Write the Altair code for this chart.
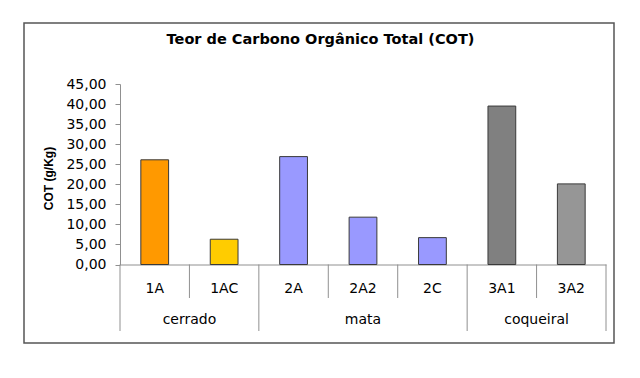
import altair as alt
import pandas as pd

categories = ["1A", "1AC", "2A", "2A2", "2C", "3A1", "3A2"]
values = [26.1, 6.3, 26.9, 11.8, 6.7, 39.5, 20.1]
groups = ["cerrado", "cerrado", "mata", "mata", "mata", "coqueiral", "coqueiral"]
colors = ["#FF9900", "#FFCC00", "#9999FF", "#9999FF", "#9999FF", "#808080", "#969696"]
y_ticks = [0, 5, 10, 15, 20, 25, 30, 35, 40, 45]
title_text = ["Teor de Carbono Orgânico Total (COT)"]
y_title = "COT (g/Kg)"

W = 486
H = 180.5
FONT = "DejaVu Sans"
GRAY = "#909090"

df = pd.DataFrame({"cat": categories, "val": values, "grp": groups})

group_names, starts, ends = [], [], []
for i, g in enumerate(groups):
    if not group_names or group_names[-1] != g:
        group_names.append(g)
        starts.append(i)
        ends.append(i + 1)
    else:
        ends[-1] = i + 1
grp_df = pd.DataFrame({"grp": group_names,
                       "mid": [(s + e) / 2 for s, e in zip(starts, ends)]})
major = sorted(set(starts + ends))
minor = [i for i in range(len(categories) + 1) if i not in major]
pos_scale = alt.Scale(domain=[0, len(categories)], nice=False, zero=False)

frame = alt.Chart(pd.DataFrame({"k": [0]})).mark_rect(
    fillOpacity=0, stroke="#555555", strokeWidth=1.5
).encode(x=alt.value(-96), x2=alt.value(494), y=alt.value(-61), y2=alt.value(259))

minor_rules = alt.Chart(pd.DataFrame({"p": minor})).mark_rule(
    color=GRAY, strokeWidth=1
).encode(x=alt.X("p:Q", scale=pos_scale, axis=None),
         y=alt.value(H), y2=alt.value(H + 33.5))

major_rules = alt.Chart(pd.DataFrame({"p": major})).mark_rule(
    color=GRAY, strokeWidth=1
).encode(x=alt.X("p:Q", scale=pos_scale, axis=None),
         y=alt.value(H), y2=alt.value(H + 66.5))

bars = alt.Chart(df).mark_bar(stroke="#3a3a3a", strokeWidth=1).encode(
    x=alt.X("cat:N", sort=categories,
            scale=alt.Scale(paddingInner=0.6, paddingOuter=0.3),
            axis=alt.Axis(title=None, ticks=False, tickSize=0, labelAngle=0,
                          labelFont=FONT, labelFontSize=14, labelColor="black",
                          labelPadding=24, labelBaseline="middle",
                          domainColor=GRAY, domainWidth=1)),
    y=alt.Y("val:Q", scale=alt.Scale(domain=[0, 45], nice=False),
            axis=alt.Axis(values=y_ticks, grid=False,
                          labelExpr="replace(format(datum.value, '.2f'), '.', ',')",
                          tickSize=5, tickColor=GRAY, domainColor=GRAY,
                          labelPadding=9, labelFont=FONT, labelFontSize=14,
                          labelColor="black",
                          title=y_title, titleFont="Liberation Sans",
                          titleFontSize=12, titleFontWeight="bold",
                          titleColor="black", titleAngle=270,
                          titleX=-72, titleY=94, titleAlign="center",
                          titleBaseline="middle")),
    color=alt.Color("cat:N", scale=alt.Scale(domain=categories, range=colors),
                    legend=None),
)

group_labels = alt.Chart(grp_df).mark_text(
    font=FONT, fontSize=14, color="black", baseline="middle", align="center"
).encode(x=alt.X("mid:Q", scale=pos_scale, axis=None),
         y=alt.value(236), text="grp:N")

title = alt.Chart(pd.DataFrame({"t": title_text})).mark_text(
    font=FONT, fontSize=14.5, fontWeight="bold", color="black",
    baseline="middle", align="center"
).encode(x=alt.value(200.5), y=alt.value(-43.7), text="t:N")

chart = alt.layer(frame, minor_rules, major_rules, bars, group_labels, title).resolve_scale(
    x="independent"
).properties(
    width=W, height=H,
    padding={"left": 120, "top": 84, "right": 34, "bottom": 113.5},
    autosize=alt.AutoSizeParams(type="none"),
    background="white",
).configure_view(stroke=None)

chart.save("out.html", embed_options={"renderer": "svg", "actions": False})
